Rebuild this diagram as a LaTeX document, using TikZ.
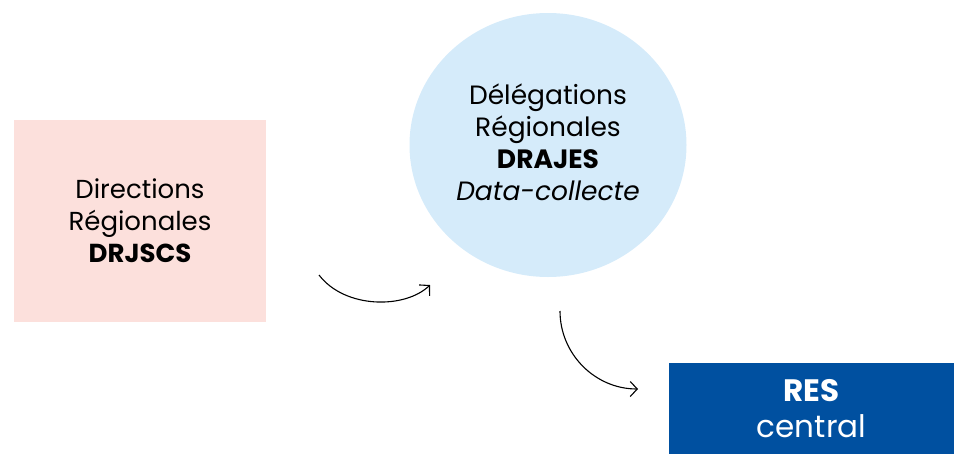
\documentclass[tikz,border=0pt]{standalone}
\usepackage{fontspec}
\setmainfont{Poppins}
\usetikzlibrary{arrows.meta,shapes.geometric}
\definecolor{PinkBox}{HTML}{FCE0DC}
\definecolor{SkyDisc}{HTML}{D5EBFA}
\definecolor{NavyBox}{HTML}{0050A0}
\begin{document}
\begin{tikzpicture}
  [x=1pt,y=-1pt,
   Txt/.style={align=center,inner sep=0pt,font=\fontsize{26}{32}\selectfont},
   Link/.style={-{Straight Barb[length=7pt,width=15pt]},line width=1.1pt}]
  \useasboundingbox (0,0) rectangle (954,453);
  \node[Txt,fill=PinkBox,minimum width=252pt,minimum height=202pt] (drjscs) at (140,221){Directions\\Régionales\\\textbf{DRJSCS}};
  \node[Txt,ellipse,fill=SkyDisc,minimum width=277pt,minimum height=264pt] (drajes) at (548,145){};
  \node[Txt,font=\fontsize{26.5}{32}\selectfont] (drajestxt) at (548,142){Délégations\\Régionales\\\textbf{DRAJES}\\\textit{Data-collecte}};
  \node[Txt,fill=NavyBox,text=white,minimum width=285pt,minimum height=91pt,font=\fontsize{31}{36}\selectfont] (res) at (811.5,408.5){\textbf{RES}\\central};
  \coordinate (a1) at (319,275);
  \coordinate (b1) at (430,285);
  \coordinate (a2) at (560,311);
  \coordinate (b2) at (638,389);
  \draw[Link] (a1) .. controls (345,309) and (405,309) .. (b1);
  \draw[Link] (a2) .. controls (560,354) and (595,389) .. (b2);
\end{tikzpicture}
\end{document}
